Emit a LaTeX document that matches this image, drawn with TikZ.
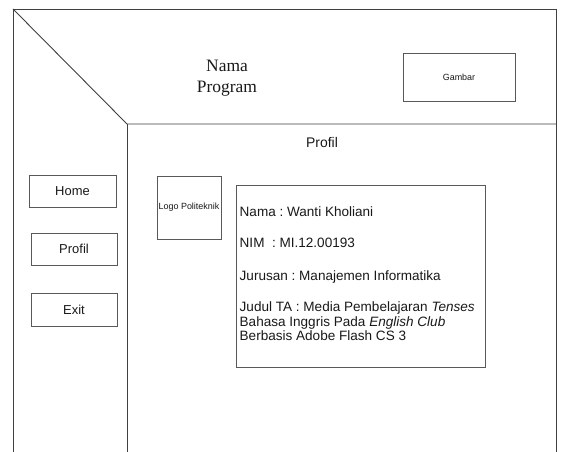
\documentclass[tikz,border=0pt]{standalone}
\usepackage{fontspec}
\setmainfont{Liberation Serif}
\setsansfont{Liberation Sans}
\frenchspacing
\begin{document}
\begin{tikzpicture}[x=1bp,y=-1bp,
  frameline/.style={draw=black!75, line width=0.9bp},
  box/.style={draw=black!65, line width=0.9bp, fill=white, inner sep=0pt,
    font=\sffamily\fontsize{13}{15}\selectfont, text=black!90},
  smallbox/.style={box, font=\sffamily\fontsize{9}{11}\selectfont},
  infotext/.style={anchor=base west, inner sep=0pt,
    font=\sffamily\fontsize{13.6}{15}\selectfont, text=black!90}]
  \useasboundingbox (0,0) rectangle (561,452);
  \fill[white] (0,0) rectangle (561,452);

  % window frame and the split between header, menu and content
  \coordinate (tl) at (13,9);
  \coordinate (tr) at (556,9);
  \coordinate (bl) at (13,452);
  \coordinate (br) at (556,452);
  \coordinate (corner) at (127,124);
  \coordinate (rsplit) at (556,124);
  \coordinate (cbottom) at (127,452);
  \draw[frameline] (bl) -- (tl) -- (tr) -- (br);
  \draw[frameline] (tl) -- (corner) -- (rsplit);
  \draw[frameline] (corner) -- (cbottom);

  % header
  \node[align=center, font=\fontsize{17.5}{21}\selectfont, text=black!90] (title) at (227,78) {Nama\\Program};
  \node[smallbox, minimum width=112bp, minimum height=48bp] (gambar) at (459,77) {Gambar};

  % menu buttons
  \node[box, minimum width=87bp, minimum height=32bp] (home) at (72.5,191) {Home};
  \node[box, minimum width=86bp, minimum height=32bp] (profil) at (74,249) {Profil};
  \node[box, minimum width=86bp, minimum height=33bp] (exit) at (74,309.5) {Exit};

  % content area
  \node[font=\sffamily\fontsize{14}{16}\selectfont, text=black!90] (ptitle) at (322,143) {Profil};
  \node[smallbox, minimum width=64bp, minimum height=63bp] (logo) at (189,207.5) {Logo Politeknik};
  \node[box, minimum width=249bp, minimum height=182bp] (info) at (361,276) {};

  \node[infotext] (nama) at (239.5,216.5) {Nama : Wanti Kholiani};
  \node[infotext] (nim) at (239.5,248) {NIM\ \ : MI.12.00193};
  \node[infotext] (jurusan) at (239.5,280.5) {Jurusan : Manajemen Informatika};
  \node[infotext] (judul1) at (239.5,311.5) {Judul TA : Media Pembelajaran \textit{Tenses}};
  \node[infotext] (judul2) at (239.5,326) {Bahasa Inggris Pada \textit{English Club}};
  \node[infotext] (judul3) at (239.5,340.5) {Berbasis Adobe Flash CS 3};
\end{tikzpicture}
\end{document}
